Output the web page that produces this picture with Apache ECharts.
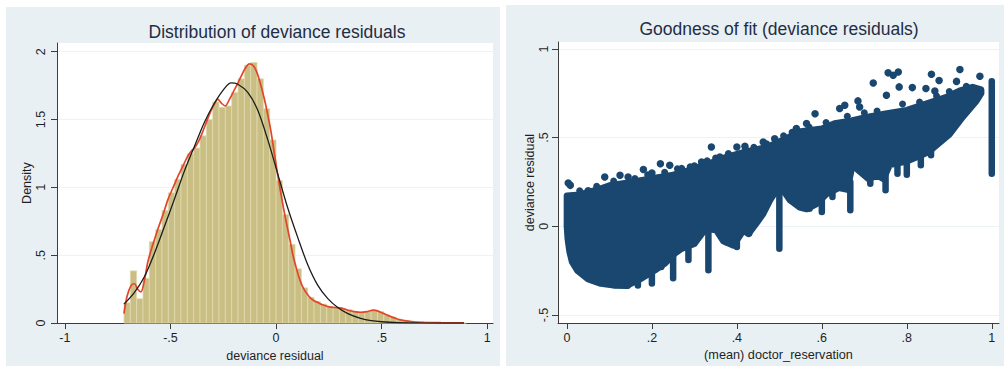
<!DOCTYPE html>
<html>
<head>
<meta charset="utf-8">
<script src="https://cdn.jsdelivr.net/npm/echarts@6/dist/echarts.min.js"></script>
<style>
  html, body { margin: 0; padding: 0; background: #ffffff; }
  #chart { width: 1004px; height: 367px; }
</style>
</head>
<body>
<div id="chart"></div>
<script>
// ---------- Left panel: distribution of deviance residuals ----------
// Histogram bins: equal width, starting at binStart
const binStart = -0.72;
const binWidth = 0.03;
const binDensity = [
  0.15, 0.385, 0.18, 0.33, 0.60, 0.69, 0.83, 0.96, 1.06, 1.17,
  1.25, 1.29, 1.38, 1.50, 1.63, 1.59, 1.60, 1.70, 1.80, 1.90,
  1.92, 1.80, 1.58, 1.35, 1.05, 0.80, 0.58, 0.40, 0.26, 0.19,
  0.16, 0.14, 0.12, 0.115, 0.11, 0.10, 0.085, 0.08, 0.085, 0.095,
  0.085, 0.06, 0.045, 0.03, 0.02, 0.013, 0.009, 0.007, 0.005, 0.004,
  0.003, 0.002, 0.002, 0.001
];

// Kernel density estimate
const kdeX = [
  -0.72, -0.705, -0.685, -0.67, -0.655, -0.64, -0.625, -0.607, -0.585, -0.56,
  -0.535, -0.512, -0.49, -0.465, -0.44, -0.418, -0.40, -0.386, -0.37, -0.355,
  -0.33, -0.307, -0.29, -0.276, -0.258, -0.241, -0.22, -0.197, -0.18, -0.165,
  -0.145, -0.126, -0.11, -0.094, -0.075, -0.055, -0.04, -0.025, -0.01, 0.005,
  0.02, 0.035, 0.05, 0.065, 0.08, 0.095, 0.11, 0.125, 0.14, 0.16,
  0.18, 0.20, 0.22, 0.25, 0.28, 0.31, 0.34, 0.37, 0.40, 0.43,
  0.46, 0.48, 0.51, 0.54, 0.57, 0.60, 0.65, 0.70, 0.78, 0.89
];
const kdeY = [
  0.07, 0.20, 0.28, 0.29, 0.25, 0.23, 0.30, 0.45, 0.57, 0.69,
  0.80, 0.91, 0.99, 1.08, 1.16, 1.23, 1.27, 1.29, 1.33, 1.38,
  1.48, 1.57, 1.62, 1.65, 1.62, 1.60, 1.65, 1.72, 1.77, 1.82,
  1.88, 1.91, 1.90, 1.86, 1.77, 1.65, 1.54, 1.42, 1.27, 1.12,
  0.98, 0.85, 0.73, 0.62, 0.50, 0.41, 0.33, 0.27, 0.23, 0.19,
  0.165, 0.15, 0.135, 0.12, 0.115, 0.11, 0.095, 0.085, 0.08, 0.085,
  0.095, 0.09, 0.07, 0.05, 0.032, 0.02, 0.01, 0.006, 0.003, 0.001
];

// Normal density overlay
const normX = [
  -0.72, -0.671, -0.624, -0.577, -0.529, -0.482, -0.434, -0.387, -0.339, -0.292,
  -0.244, -0.213, -0.181, -0.134, -0.087, -0.039, 0.008, 0.055, 0.103, 0.150,
  0.197, 0.245, 0.292, 0.34, 0.40, 0.45, 0.50, 0.58, 0.68, 0.89
];
const normY = [
  0.14, 0.225, 0.34, 0.51, 0.71, 0.91, 1.12, 1.30, 1.48, 1.62,
  1.73, 1.77, 1.76, 1.70, 1.57, 1.35, 1.10, 0.85, 0.63, 0.43,
  0.28, 0.18, 0.115, 0.07, 0.035, 0.018, 0.01, 0.004, 0.001, 0
];

const histXTicks = [-1, -0.5, 0, 0.5, 1];
const histXLabels = ['-1', '-.5', '0', '.5', '1'];
const histYTicks = [0, 0.5, 1, 1.5, 2];
const histYLabels = ['0', '.5', '1', '1.5', '2'];

// ---------- Right panel: goodness of fit ----------
// Outline of the dense cloud of residuals (marker centres)
const cloudUpperX = [0, 0.03, 0.07, 0.10, 0.14, 0.20, 0.25, 0.28, 0.33, 0.375, 0.42, 0.47, 0.52, 0.55, 0.60, 0.63, 0.67, 0.705, 0.75, 0.80, 0.845, 0.89, 0.925, 0.955, 0.975];
const cloudUpperY = [0.172, 0.178, 0.205, 0.23, 0.245, 0.27, 0.29, 0.31, 0.35, 0.39, 0.42, 0.445, 0.50, 0.535, 0.55, 0.58, 0.595, 0.615, 0.635, 0.655, 0.69, 0.725, 0.765, 0.785, 0.77];
const cloudLowerX = [0, 0.002, 0.006, 0.012, 0.025, 0.05, 0.08, 0.11, 0.14, 0.176, 0.207, 0.23, 0.254, 0.27, 0.30, 0.317, 0.33, 0.352, 0.368, 0.392, 0.415, 0.427, 0.446, 0.461, 0.478, 0.497, 0.508, 0.525, 0.548, 0.564, 0.588, 0.611, 0.64, 0.66, 0.672, 0.69, 0.71, 0.73, 0.745, 0.76, 0.78, 0.80, 0.82, 0.85, 0.87, 0.90, 0.932, 0.964, 0.975];
const cloudLowerY = [0.0, -0.07, -0.14, -0.20, -0.25, -0.298, -0.323, -0.333, -0.335, -0.293, -0.248, -0.21, -0.153, -0.126, -0.098, -0.043, -0.013, -0.023, -0.083, -0.108, -0.023, -0.043, 0.017, 0.067, 0.147, 0.217, 0.207, 0.147, 0.107, 0.097, 0.127, 0.182, 0.217, 0.207, 0.347, 0.307, 0.267, 0.287, 0.267, 0.347, 0.357, 0.367, 0.387, 0.417, 0.457, 0.517, 0.617, 0.707, 0.75];

// Vertical runs of residuals at repeated means
const spikeX    = [0.143, 0.167, 0.200, 0.222, 0.250, 0.286, 0.333, 0.375, 0.400, 0.429, 0.500, 0.571, 0.600, 0.625, 0.667, 0.714, 0.750, 0.778, 0.800, 0.833, 0.857, 1.000];
const spikeLow  = [-0.335, -0.333, -0.323, -0.23, -0.293, -0.19, -0.248, -0.09, -0.117, -0.041, -0.126, 0.099, 0.081, 0.165, 0.09, 0.24, 0.203, 0.297, 0.29, 0.344, 0.40, 0.297];
const spikeHigh = [-0.30, -0.28, -0.24, -0.18, -0.12, -0.08, 0.0, -0.05, -0.06, 0.0, 0.22, 0.12, 0.15, 0.20, 0.25, 0.30, 0.30, 0.36, 0.37, 0.40, 0.43, 0.818];

// Residuals on the ragged upper edge of the cloud
const edgeX = [0.03, 0.07, 0.11, 0.16, 0.19, 0.23, 0.26, 0.29, 0.33, 0.35, 0.38, 0.42, 0.44, 0.47, 0.51, 0.53, 0.57, 0.61, 0.66, 0.70, 0.73, 0.79, 0.83, 0.87, 0.90, 0.94];
const edgeY = [0.20, 0.225, 0.255, 0.27, 0.29, 0.305, 0.325, 0.335, 0.37, 0.385, 0.41, 0.435, 0.445, 0.465, 0.51, 0.53, 0.56, 0.585, 0.62, 0.64, 0.65, 0.69, 0.70, 0.735, 0.76, 0.79];

// Isolated residuals above the cloud
const outlierX = [0.003, 0.008, 0.05, 0.089, 0.125, 0.144, 0.18, 0.20, 0.22, 0.242, 0.27, 0.30, 0.317, 0.34, 0.36, 0.40, 0.419, 0.462, 0.489, 0.54, 0.564, 0.584, 0.642, 0.654, 0.685, 0.689, 0.721, 0.752, 0.756, 0.768, 0.78, 0.782, 0.813, 0.845, 0.858, 0.866, 0.876, 0.917, 0.925, 0.972];
const outlierY = [0.244, 0.231, 0.20, 0.278, 0.288, 0.278, 0.32, 0.30, 0.353, 0.344, 0.325, 0.34, 0.363, 0.447, 0.391, 0.447, 0.451, 0.475, 0.494, 0.551, 0.579, 0.635, 0.664, 0.682, 0.707, 0.673, 0.808, 0.739, 0.865, 0.852, 0.87, 0.786, 0.782, 0.777, 0.857, 0.763, 0.822, 0.817, 0.884, 0.846];

const fitXTicks = [0, 0.2, 0.4, 0.6, 0.8, 1];
const fitXLabels = ['0', '.2', '.4', '.6', '.8', '1'];
const fitYTicks = [-0.5, 0, 0.5, 1];
const fitYLabels = ['-.5', '0', '.5', '1'];

// ---------- Styling ----------
const FONT = '"Liberation Sans", Arial, Helvetica, sans-serif';
const NAVY = '#1a476f';
const BAR = '#c9bf84';
const BAR_EDGE = '#e2dbb0';
const KDE = '#e2462a';
const NORM = '#1c1c1c';
const PANEL = '#e9f0f3';
const AXIS = '#3c3c3c';
const GRIDLINE = '#edf2f5';
const TEXT = '#1f1f1f';
const TITLE = '#1f2d45';

function labelFor(ticks, labels) {
  return function (v) {
    for (let i = 0; i < ticks.length; i++) {
      if (Math.abs(ticks[i] - v) < 1e-9) return labels[i];
    }
    return '';
  };
}
function zip(xs, ys) { return xs.map((x, i) => [x, ys[i]]); }

function makeAxis(opts) {
  return {
    type: 'value',
    gridIndex: opts.grid,
    min: opts.min,
    max: opts.max,
    name: opts.name,
    nameLocation: 'middle',
    nameGap: opts.nameGap,
    nameRotate: opts.vertical ? 90 : 0,
    nameTextStyle: { fontFamily: FONT, fontSize: opts.nameSize || 12.5, color: TEXT },
    axisLine: { show: true, onZero: false, lineStyle: { color: AXIS, width: 1 } },
    axisTick: { show: true, customValues: opts.ticks, length: 6, lineStyle: { color: AXIS, width: 1 } },
    axisLabel: {
      customValues: opts.ticks,
      formatter: labelFor(opts.ticks, opts.labels),
      rotate: opts.vertical ? 90 : 0,
      margin: opts.margin,
      fontFamily: FONT, fontSize: 12.5, color: TEXT
    },
    splitLine: { show: !!opts.vertical, lineStyle: { color: GRIDLINE, width: 1 } }
  };
}

const chart = echarts.init(document.getElementById('chart'), null, { renderer: 'svg' });

const histData = binDensity.map((d, i) => [binStart + i * binWidth, binStart + (i + 1) * binWidth, d]);
const spikeData = spikeX.map((x, i) => [x, spikeLow[i], spikeHigh[i]]);

const option = {
  animation: false,
  backgroundColor: '#ffffff',
  graphic: [
    { type: 'rect', z: -10, shape: { x: 6, y: 7, width: 494, height: 359 }, style: { fill: PANEL } },
    { type: 'rect', z: -10, shape: { x: 506, y: 5, width: 498, height: 361 }, style: { fill: PANEL } },
    { type: 'text', x: 277, y: 32, z: 10, style: { text: 'Distribution of deviance residuals', textAlign: 'center', textVerticalAlign: 'middle', font: '17.5px ' + FONT, fill: TITLE } },
    { type: 'text', x: 779, y: 29, z: 10, style: { text: 'Goodness of fit (deviance residuals)', textAlign: 'center', textVerticalAlign: 'middle', font: '17.5px ' + FONT, fill: TITLE } }
  ],
  grid: [
    { left: 57, top: 43, width: 436, height: 281, show: true, backgroundColor: '#ffffff', borderWidth: 0 },
    { left: 558, top: 42, width: 441, height: 281, show: true, backgroundColor: '#ffffff', borderWidth: 0 }
  ],
  xAxis: [
    makeAxis({ grid: 0, min: -1.037, max: 1.027, ticks: histXTicks, labels: histXLabels, name: 'deviance residual', nameGap: 21, margin: 8 }),
    makeAxis({ grid: 1, min: -0.021, max: 1.017, ticks: fitXTicks, labels: fitXLabels, name: '(mean) doctor_reservation', nameGap: 20, margin: 8, nameSize: 12.7 })
  ],
  yAxis: [
    makeAxis({ grid: 0, vertical: true, min: 0, max: 2.064, ticks: histYTicks, labels: histYLabels, name: 'Density', nameGap: 22, margin: 10 }),
    makeAxis({ grid: 1, vertical: true, min: -0.545, max: 1.039, ticks: fitYTicks, labels: fitYLabels, name: 'deviance residual', nameGap: 21, margin: 8 })
  ],
  series: [
    {
      type: 'custom',
      xAxisIndex: 0, yAxisIndex: 0,
      data: histData,
      encode: { x: [0, 1], y: 2 },
      renderItem: function (params, api) {
        const p0 = api.coord([api.value(0), api.value(2)]);
        const p1 = api.coord([api.value(1), 0]);
        return {
          type: 'rect',
          shape: { x: p0[0], y: p0[1], width: p1[0] - p0[0], height: p1[1] - p0[1] },
          style: { fill: BAR, stroke: BAR_EDGE, lineWidth: 0.7 }
        };
      },
      z: 2
    },
    {
      type: 'line', xAxisIndex: 0, yAxisIndex: 0,
      data: zip(kdeX, kdeY), smooth: 0.3, showSymbol: false,
      lineStyle: { color: KDE, width: 1.7 }, z: 3
    },
    {
      type: 'line', xAxisIndex: 0, yAxisIndex: 0,
      data: zip(normX, normY), smooth: 0.3, showSymbol: false,
      lineStyle: { color: NORM, width: 1.3 }, z: 4
    },
    {
      type: 'custom',
      xAxisIndex: 1, yAxisIndex: 1,
      data: [[0.5, 0.2]],
      renderItem: function (params, api) {
        const pts = [];
        for (let i = 0; i < cloudUpperX.length; i++) pts.push(api.coord([cloudUpperX[i], cloudUpperY[i]]));
        for (let i = cloudLowerX.length - 1; i >= 0; i--) pts.push(api.coord([cloudLowerX[i], cloudLowerY[i]]));
        return {
          type: 'polygon',
          shape: { points: pts },
          style: { fill: NAVY, stroke: NAVY, lineWidth: 6.5, lineJoin: 'round' }
        };
      },
      z: 2
    },
    {
      type: 'custom',
      xAxisIndex: 1, yAxisIndex: 1,
      data: spikeData,
      encode: { x: 0, y: [1, 2] },
      renderItem: function (params, api) {
        const a = api.coord([api.value(0), api.value(1)]);
        const b = api.coord([api.value(0), api.value(2)]);
        return {
          type: 'line',
          shape: { x1: a[0], y1: a[1], x2: b[0], y2: b[1] },
          style: { stroke: NAVY, lineWidth: 6.5, lineCap: 'round' }
        };
      },
      z: 3
    },
    {
      type: 'scatter', xAxisIndex: 1, yAxisIndex: 1,
      data: zip(edgeX, edgeY),
      symbol: 'circle', symbolSize: 7,
      itemStyle: { color: NAVY, opacity: 1 }, z: 4
    },
    {
      type: 'scatter', xAxisIndex: 1, yAxisIndex: 1,
      data: zip(outlierX, outlierY),
      symbol: 'circle', symbolSize: 7.5,
      itemStyle: { color: NAVY, opacity: 1 }, z: 4
    }
  ]
};

chart.setOption(option);
</script>
</body>
</html>
